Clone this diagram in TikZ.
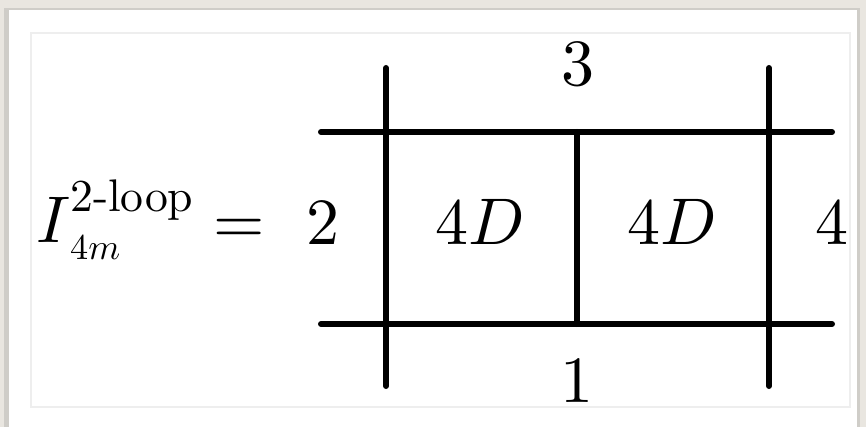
\documentclass[tikz,border=0pt]{standalone}
\newcommand{\bigtxt}[1]{\scalebox{6.6}{#1}}
\begin{document}
\begin{tikzpicture}[x=1pt,y=-1pt,
  prop/.style={line width=6pt,line cap=round,black},
  lab/.style={inner sep=0pt,font=\fontsize{10}{12}\selectfont},
  lbl/.style={lab,anchor=base}]
\definecolor{bgbeige}{HTML}{E9E6E0}
\definecolor{shadowgray}{HTML}{CFCDC8}
\definecolor{panelline}{HTML}{EEEEEE}
\useasboundingbox (0,0) rectangle (866,427);
\fill[bgbeige] (0,0) rectangle (866,427);
\fill[shadowgray] (4,8) rectangle (860,427);
\fill[white] (9,10) rectangle (857,427);
\draw[panelline,line width=1.5pt] (31,33) rectangle (850,407);
% coordinates
\coordinate (Lt) at (386,68);
\coordinate (Lb) at (386,386);
\coordinate (Rt) at (769,68);
\coordinate (Rb) at (769,386);
\coordinate (Tl) at (321,132);
\coordinate (Tr) at (832,132);
\coordinate (Bl) at (321,324);
\coordinate (Br) at (832,324);
\coordinate (Mt) at (577,132);
\coordinate (Mb) at (577,324);
\draw[prop] (Lt) -- (Lb);
\draw[prop] (Rt) -- (Rb);
\draw[prop] (Tl) -- (Tr);
\draw[prop] (Bl) -- (Br);
\draw[prop] (Mt) -- (Mb);
% labels
\node[lbl] (l3) at (578,86) {\bigtxt{$3$}};
\node[lbl] (l1) at (577,402) {\bigtxt{$1$}};
\node[lbl] (l2) at (323,245) {\bigtxt{$2$}};
\node[lbl] (l4) at (832,245) {\bigtxt{$4$}};
\node[lbl] (d1) at (480,245) {\bigtxt{$4D$}};
\node[lbl] (d2) at (672,245) {\bigtxt{$4D$}};
% formula
\node[lab,anchor=base west] (I) at (36,243) {\bigtxt{$I$}};
\node[lab,anchor=base west] (sup) at (70,212) {\scalebox{4.57}{2-loop}};
\node[lab,anchor=base west] (sub) at (70,259) {\scalebox{3.63}{$4m$}};
\node[lab,anchor=base west] (eq) at (213,244) {\bigtxt{$=$}};
\end{tikzpicture}
\end{document}
